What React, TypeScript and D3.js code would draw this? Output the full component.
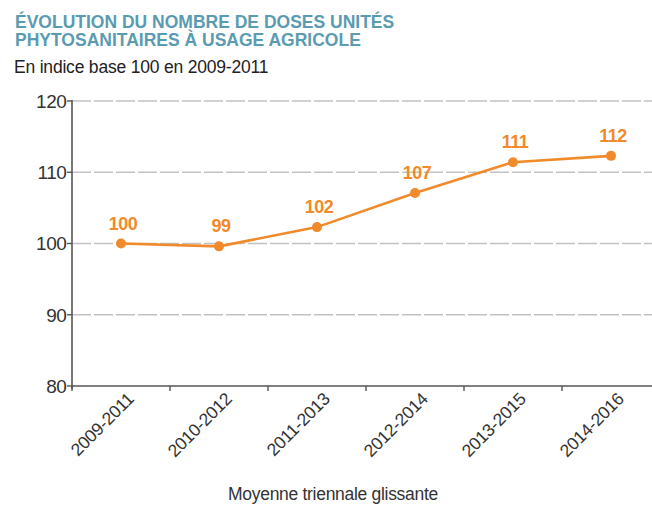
import React from "react";
import * as d3 from "d3";

const categories = ["2009-2011", "2010-2012", "2011-2013", "2012-2014", "2013-2015", "2014-2016"];
const values = [100, 99.6, 102.3, 107.1, 111.4, 112.3];
const valueLabels = ["100", "99", "102", "107", "111", "112"];
const yTicks = [80, 90, 100, 110, 120];
const titleLines = ["ÉVOLUTION DU NOMBRE DE DOSES UNITÉS", "PHYTOSANITAIRES À USAGE AGRICOLE"];
const subtitle = "En indice base 100 en 2009-2011";
const xTitle = "Moyenne triennale glissante";

const W = 652;
const H = 507;
const left = 72;
const right = 660;
const top = 101;
const bottom = 386;

const ORANGE = "#f18a2a";
const AXIS = "#555";
const FONT = "'Liberation Sans', Arial, Helvetica, sans-serif";

export default function App() {
  const x = d3.scaleBand<string>().domain(categories).range([left, right]).paddingInner(0).paddingOuter(0);
  const y = d3.scaleLinear().domain([80, 120]).range([bottom, top]);
  const cx = (c: string) => (x(c) as number) + x.bandwidth() / 2;
  const line = d3
    .line<number>()
    .x((_, i) => cx(categories[i]))
    .y((v) => y(v));

  return (
    <svg width={W} height={H} style={{ position: "absolute", left: 0, top: 0, background: "#fff" }} fontFamily={FONT}>
      {titleLines.map((t, i) => (
        <text key={t} x={15} y={28 + i * 17.5} fontSize={17.5} fontWeight="bold" fill="#5b9bb1" letterSpacing={0}>
          {t}
        </text>
      ))}
      <text x={14} y={73} fontSize={17.5} fill="#222" letterSpacing={-0.2}>
        {subtitle}
      </text>

      {/* gridlines */}
      {yTicks
        .filter((t) => t !== 80)
        .map((t) => (
          <line key={t} x1={left} x2={W} y1={y(t)} y2={y(t)} stroke="#c2c2c2" strokeWidth={1.6} strokeDasharray="19,3" />
        ))}

      {/* y axis */}
      <line x1={left} x2={left} y1={top - 1} y2={bottom + 3} stroke={AXIS} strokeWidth={1.6} />
      {yTicks.map((t) => (
        <g key={t}>
          <line x1={left - 5} x2={left} y1={y(t)} y2={y(t)} stroke={AXIS} strokeWidth={1.4} />
          <text x={66.5} y={y(t)} dy="0.36em" textAnchor="end" fontSize={19} fill="#333" letterSpacing={-0.4}>
            {t}
          </text>
        </g>
      ))}

      {/* x axis */}
      <line x1={left} x2={W} y1={bottom} y2={bottom} stroke={AXIS} strokeWidth={1.6} />
      {categories.map((c) => (
        <g key={c}>
          <line x1={x(c) as number} x2={x(c) as number} y1={bottom} y2={bottom + 5} stroke={AXIS} strokeWidth={1.4} />
          <text
            transform={`translate(${cx(c) + 14},${bottom + 14}) rotate(-45)`}
            textAnchor="end"
            fontSize={17.5}
            fill="#333"
            letterSpacing={-0.2}
          >
            {c}
          </text>
        </g>
      ))}
      <text x={333} y={500} textAnchor="middle" fontSize={17.5} fill="#333" letterSpacing={-0.3}>
        {xTitle}
      </text>

      {/* series */}
      <path d={line(values) as string} fill="none" stroke={ORANGE} strokeWidth={2.6} />
      {values.map((v, i) => (
        <g key={i}>
          <circle cx={cx(categories[i])} cy={y(v)} r={5} fill={ORANGE} />
          <text
            x={cx(categories[i]) + 2}
            y={y(v) - 14}
            textAnchor="middle"
            fontSize={18}
            fontWeight="bold"
            fill={ORANGE}
            letterSpacing={-0.5}
          >
            {valueLabels[i]}
          </text>
        </g>
      ))}
    </svg>
  );
}
